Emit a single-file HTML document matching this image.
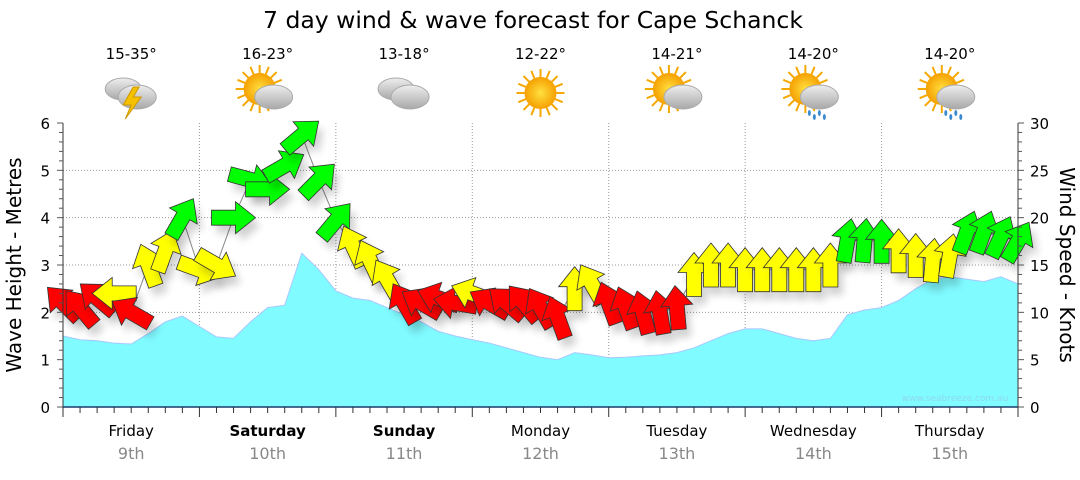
<!DOCTYPE html>
<html><head><meta charset="utf-8">
<style>
body{margin:0;background:#fff;}
svg text{font-family:"DejaVu Sans","Liberation Sans",sans-serif;}
</style></head>
<body>
<svg id="chart" width="1080" height="475" viewBox="0 0 1080 475" xmlns="http://www.w3.org/2000/svg">
<defs>
<filter id="sh" x="-50%" y="-50%" width="200%" height="200%"><feGaussianBlur stdDeviation="4"/></filter>
<radialGradient id="sun" cx="50%" cy="50%" r="50%"><stop offset="0" stop-color="#ffe040"/><stop offset="1" stop-color="#f5a000"/></radialGradient>
<linearGradient id="cloud" x1="0" y1="0" x2="0" y2="1"><stop offset="0" stop-color="#eee"/><stop offset="1" stop-color="#a8a8a8"/></linearGradient>
</defs>
<text x="533" y="28" font-size="23.5" text-anchor="middle" fill="#000">7 day wind &amp; wave forecast for Cape Schanck</text>
<g id="grid"></g>
<g id="wave"></g>
<g id="winds"></g>
<g id="axes"></g>
<g id="icons"></g>
<text x="955" y="401" font-size="9" fill="#8fd8ee" text-anchor="middle">www.seabreeze.com.au</text>
<text transform="translate(21,265) rotate(-90)" font-size="20" text-anchor="middle">Wave Height - Metres</text>
<text transform="translate(1060,265) rotate(90)" font-size="20" text-anchor="middle">Wind Speed - Knots</text>
</svg>
<script>
const days = ["Friday","Saturday","Sunday","Monday","Tuesday","Wednesday","Thursday"];
const dates = ["9th","10th","11th","12th","13th","14th","15th"];
const boldDays = [false,true,true,false,false,false,false];
const temps = ["15-35°","16-23°","13-18°","12-22°","14-21°","14-20°","14-20°"];
const weather = ["storm","partly","cloudy","sunny","partly","rain","rain"];
const waveTicks = [0,1,2,3,4,5,6];
const windTicks = [0,5,10,15,20,25,30];
// 3-hourly wave height (m)
const waveHeights = [1.5,1.42,1.4,1.35,1.33,1.55,1.8,1.92,1.7,1.48,1.45,1.8,2.1,2.15,3.25,2.9,2.45,2.3,2.25,2.1,1.95,1.8,1.6,1.5,1.42,1.35,1.25,1.15,1.05,1.0,1.15,1.1,1.04,1.05,1.08,1.1,1.15,1.25,1.4,1.55,1.65,1.65,1.55,1.45,1.4,1.45,1.95,2.05,2.1,2.25,2.5,2.7,2.75,2.7,2.65,2.75,2.6];
// 3-hourly wind speed (knots)
const windSpeeds = [11,10.5,11.5,12,10,15,16.5,20,14.5,15,20,24,23,25.5,28.7,24,19.7,17,15.5,13.5,11,11,11.5,11,12,11,11,11,10.5,9.5,12.5,13,11,10.5,10,10,10.5,14,15,15,14.5,14.5,14.5,14.5,14.5,15,17.6,17.6,17.5,16.5,16,15.5,16,18.5,18.5,18,17.5];
// wind arrow direction (screen degrees, 0 = pointing right, -90 = up)
const windDirs = [-135,-130,-140,180,-150,-110,-70,-60,20,30,0,15,0,-30,-40,-45,-50,-115,-115,-120,-120,-150,-160,-170,-160,-150,-140,-130,-120,-110,-90,-120,-110,-110,-105,-100,-95,-90,-90,-90,-90,-90,-90,-90,-90,-90,-80,-85,-90,-90,-90,-85,-80,-70,-70,-65,-60];

const NS="http://www.w3.org/2000/svg";
const X0=63,X1=1018,Y0=407,Y1=123;
const xPos=i=>X0+(X1-X0)*i/(waveHeights.length-1);
const yWave=v=>Y0-(Y0-Y1)*v/6;
const yWind=v=>Y0-(Y0-Y1)*v/30;
const dayW=(X1-X0)/7;
function mk(tag,attrs,parent){const e=document.createElementNS(NS,tag);for(const k in attrs)e.setAttribute(k,attrs[k]);parent.appendChild(e);return e;}
const grid=document.getElementById('grid'),wave=document.getElementById('wave'),winds=document.getElementById('winds'),axes=document.getElementById('axes'),icons=document.getElementById('icons');

waveTicks.forEach(t=>{if(t>0&&t<6){const l=mk('line',{x1:X0,x2:X1,y1:yWave(t),y2:yWave(t),stroke:'#999','stroke-dasharray':'1,2'},grid);

}});
for(let d=1;d<7;d++){const l=mk('line',{x1:X0+d*dayW,x2:X0+d*dayW,y1:Y1,y2:Y0,stroke:'#999','stroke-dasharray':'1,2'},grid);

}

let dStr=`M${X0},${Y0}`;waveHeights.forEach((v,i)=>{dStr+=` L${xPos(i).toFixed(1)},${yWave(v).toFixed(1)}`;});dStr+=` L${X1},${Y0} Z`;
const area=mk('path',{d:dStr,fill:'#80fbff',stroke:'#a8c8ff','stroke-width':1},wave);



let lStr='';windSpeeds.forEach((v,i)=>{lStr+=(i?' L':'M')+xPos(i).toFixed(1)+','+yWind(v).toFixed(1);});
const wl=mk('path',{d:lStr,fill:'none',stroke:'#888','stroke-width':1},winds);



const arrowPts="-22,-7.5 2,-7.5 2,-16 22,0 2,16 2,7.5 -22,7.5";
windSpeeds.forEach((v,i)=>{
  const x=xPos(i),y=yWind(v);
  const col=v>=17.5?'#00ff00':(v>=12?'#ffff00':'#ff0000');
  const g=mk('g',{transform:`translate(${x.toFixed(1)},${y.toFixed(1)})`},winds);
  
  
  mk('polygon',{points:arrowPts,fill:'#000',opacity:0.18,filter:'url(#sh)',transform:`translate(5,8) rotate(${windDirs[i]})`},g);
  mk('polygon',{points:arrowPts,fill:col,stroke:'#333','stroke-width':0.8,transform:`rotate(${windDirs[i]})`},g);
});

[[X0,'left'],[X1,'right']].forEach(([x,n])=>{const l=mk('line',{x1:x,x2:x,y1:Y1,y2:Y0,stroke:'#333'},axes);

});
const bl=mk('line',{x1:X0,x2:X1,y1:Y0,y2:Y0,stroke:'#1a3a6a','stroke-width':1.5},axes);


for(let k=0;k<=30;k++){const y=Y0-(Y0-Y1)*k/30;const big=k%5==0;
 mk('line',{x1:X0-(big?6:4),x2:X0,y1:y,y2:y,stroke:'#555'},axes);
 mk('line',{x1:X1,x2:X1+(big?6:4),y1:y,y2:y,stroke:'#555'},axes);}
waveTicks.forEach(t=>{const tx=mk('text',{x:50,y:yWave(t)+6,'font-size':15,'text-anchor':'end'},axes);tx.textContent=t;

});
windTicks.forEach(t=>{const tx=mk('text',{x:1030,y:yWind(t)+6,'font-size':15},axes);tx.textContent=t;

});
for(let i=0;i<waveHeights.length;i++){const x=xPos(i);const big=i%8==0;mk('line',{x1:x,x2:x,y1:Y0,y2:Y0+(big?10:6),stroke:'#333'},axes);}
days.forEach((d,i)=>{const cx=X0+dayW*(i+0.5);
 const t=mk('text',{x:cx,y:436,'font-size':15,'text-anchor':'middle','font-weight':boldDays[i]?'bold':'normal'},axes);t.textContent=d;
 
 
 const t2=mk('text',{x:cx,y:459,'font-size':16,'text-anchor':'middle',fill:'#888'},axes);t2.textContent=dates[i];
 
 
 const t3=mk('text',{x:cx,y:59,'font-size':15,'text-anchor':'middle'},icons);t3.textContent=temps[i];
 
 
 const g=mk('g',{transform:`translate(${cx},93)`},icons);
 
 
 const w=weather[i];
 if(w=='sunny'||w=='partly'||w=='rain'){const sx=w=='sunny'?0:-8,sy=w=='sunny'?0:-4;
   for(let a=0;a<16;a++){mk('line',{x1:sx,y1:sy,x2:sx+24*Math.cos(a*Math.PI/8),y2:sy+24*Math.sin(a*Math.PI/8),stroke:'#f5a800','stroke-width':2},g);}
   mk('circle',{cx:sx,cy:sy,r:16,fill:'url(#sun)'},g);}
 if(w=='storm'||w=='cloudy'){mk('ellipse',{cx:-8,cy:-4,rx:18,ry:11,fill:'url(#cloud)',stroke:'#aaa'},g);}
 if(w!='sunny'){mk('ellipse',{cx:6,cy:4,rx:19,ry:12,fill:'url(#cloud)',stroke:'#aaa'},g);}
 if(w=='storm'){mk('polygon',{points:"2,-6 -8,12 0,12 -6,26 10,4 2,4 8,-6",fill:'#f5c000',stroke:'#c90'},g);}
 if(w=='rain'){for(let r=0;r<4;r++)mk('ellipse',{cx:-4+r*5,cy:20+(r%2)*4,rx:1.5,ry:3,fill:'#3a8ad0'},g);}
});
</script>
</body></html>
